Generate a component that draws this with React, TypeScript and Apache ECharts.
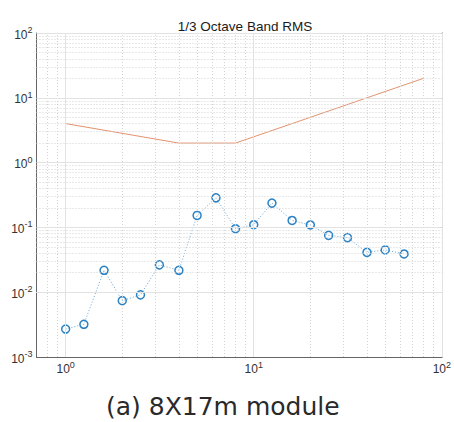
import React, { useEffect, useRef } from "react";
import * as echarts from "echarts";

const freqs = [1, 1.25, 1.6, 2, 2.5, 3.15, 4, 5, 6.3, 8, 10, 12.5, 16, 20, 25, 31.5, 40, 50, 63];
const rmsValues = [0.0027, 0.0032, 0.0218, 0.0074, 0.0091, 0.0264, 0.0218, 0.153, 0.286, 0.0955, 0.11, 0.237, 0.128, 0.109, 0.0754, 0.0695, 0.0412, 0.0449, 0.0389];
const limitFreqs = [1, 4, 8, 80];
const limitValues = [4, 2, 2, 20];
const xMajor = [1, 10, 100];
const xMinor = [0.8, 0.9, 2, 3, 4, 5, 6, 7, 8, 9, 20, 30, 40, 50, 60, 70, 80, 90];
const yMajor = [0.001, 0.01, 0.1, 1, 10, 100];
const yDecades = [0.001, 0.01, 0.1, 1, 10];
const yMinorMult = [2, 3, 4, 5, 6, 7, 8, 9];
const titleText = "1/3 Octave Band RMS";
const captionText = "(a) 8X17m module";

function powLabel(v: number): string {
  const e = Math.round(Math.log10(v));
  if (Math.abs(Math.log10(v) - e) > 1e-6) return "";
  return `{b|10}{s|${e}}`;
}

const rich = {
  b: { fontSize: 12, fontFamily: "Liberation Sans, Arial, sans-serif", color: "#333", verticalAlign: "bottom", lineHeight: 15 },
  s: { fontSize: 9, fontFamily: "Liberation Sans, Arial, sans-serif", color: "#333", verticalAlign: "top", lineHeight: 15 },
};

export default function App() {
  const ref = useRef<HTMLDivElement>(null);
  useEffect(() => {
    if (!ref.current) return;
    const chart = echarts.init(ref.current, undefined, { renderer: "svg" });
    const yMinor: number[] = [];
    yDecades.forEach((d) => yMinorMult.forEach((m) => yMinor.push(d * m)));
    const minorStyle = { color: "#d2d2d2", width: 1, type: [1, 2] as any };
    const majorStyle = { color: "#e2e2e2", width: 1, type: "solid" as any };
    const gridLines = [
      ...xMinor.map((v) => ({ xAxis: v, lineStyle: minorStyle })),
      ...yMinor.map((v) => ({ yAxis: v, lineStyle: minorStyle })),
      ...xMajor.map((v) => ({ xAxis: v, lineStyle: majorStyle })),
      ...yMajor.map((v) => ({ yAxis: v, lineStyle: majorStyle })),
    ];
    const axisCommon = {
      type: "log" as const,
      logBase: 10,
      axisLine: { show: true, lineStyle: { color: "#666", width: 1 } },
      axisTick: { show: true, inside: true, length: 4, lineStyle: { color: "#666" } },
      splitLine: { show: false },
    };
    chart.setOption({
      animation: false,
      backgroundColor: "#fff",
      title: {
        text: titleText,
        left: 240,
        textAlign: "center",
        top: 14,
        textStyle: { fontSize: 13.5, fontWeight: "normal", color: "#1a1a1a", fontFamily: "Liberation Sans, Arial, sans-serif" },
      },
      grid: { left: 36.5, right: 11, top: 33, bottom: 65, show: false },
      xAxis: [
        {
          ...axisCommon,
          min: 0.7,
          max: 100,
          position: "bottom",
          axisLabel: { formatter: powLabel, rich, margin: 3 },
        },
        {
          ...axisCommon,
          min: 0.7,
          max: 100,
          position: "top",
          axisLabel: { show: false },
        },
      ],
      yAxis: [
        {
          ...axisCommon,
          min: 0.001,
          max: 100,
          position: "left",
          axisLabel: { formatter: powLabel, rich, margin: 4 },
        },
        {
          ...axisCommon,
          min: 0.001,
          max: 100,
          position: "right",
          axisLabel: { show: false },
        },
      ],
      series: [
        {
          type: "line",
          data: [[1, 1]],
          symbol: "none",
          lineStyle: { opacity: 0 },
          silent: true,
          z: 0,
          markLine: {
            silent: true,
            symbol: "none",
            label: { show: false },
            data: gridLines,
          },
        },
        {
          type: "line",
          data: limitFreqs.map((f, i) => [f, limitValues[i]]),
          symbol: "none",
          lineStyle: { color: "#e3936f", width: 1 },
          z: 3,
        },
        {
          type: "line",
          data: freqs.map((f, i) => [f, rmsValues[i]]),
          symbol: "circle",
          symbolSize: 8,
          itemStyle: { color: "rgba(255,255,255,0)", borderColor: "#2b82c4", borderWidth: 1.5 },
          lineStyle: { color: "#6aa6d6", width: 1, type: [1, 2] },
          z: 4,
        },
      ],
      graphic: [
        {
          type: "text",
          x: 106,
          y: 406,
          style: {
            text: captionText,
            fontSize: 25,
            lineHeight: 25,
            fontFamily: "DejaVu Sans, sans-serif",
            fill: "#2a2a2a",
            align: "left",
            verticalAlign: "middle",
          },
        },
      ],
    });
    return () => chart.dispose();
  }, []);
  return <div ref={ref} style={{ width: 454, height: 422, position: "absolute", left: 0, top: 0 }} />;
}
